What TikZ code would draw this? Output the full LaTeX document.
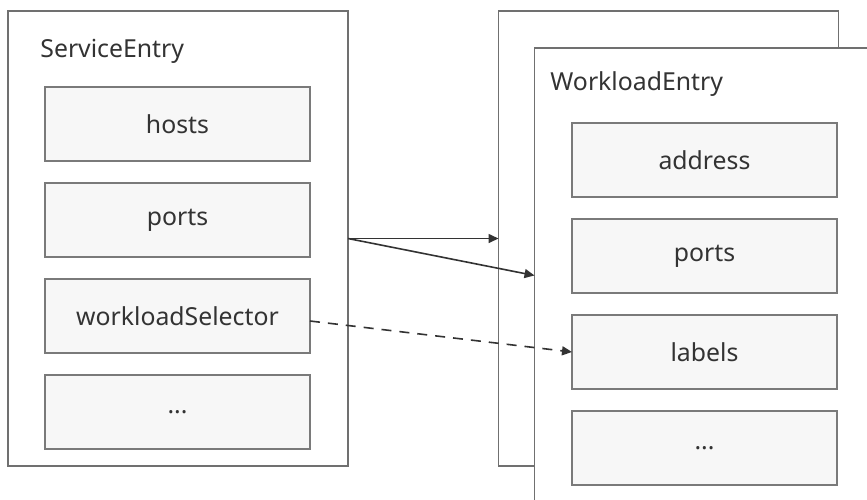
\documentclass[tikz,border=0pt]{standalone}
\usepackage{fontspec}
\setmainfont{Noto Sans}
\usetikzlibrary{arrows.meta,positioning}
\definecolor{frame}{HTML}{707070}
\definecolor{fieldline}{HTML}{7A7A7A}
\definecolor{fieldfill}{HTML}{F7F7F7}
\definecolor{ink}{HTML}{333333}

\begin{document}
\begin{tikzpicture}[x=0.5pt,y=-0.5pt,>={Triangle[length=5pt,width=4.5pt]},
 node distance=11pt,font=\fontsize{12.4}{15}\selectfont,
 entry/.style={draw=frame,line width=0.8pt,fill=white,outer sep=0pt,
 minimum width=170pt,minimum height=227.5pt},
 field/.style={draw=fieldline,line width=1pt,fill=fieldfill,text=ink,
 outer sep=0pt,minimum width=132.5pt,minimum height=37pt},
 title/.style={anchor=base west,text=ink,inner sep=0pt}]
\useasboundingbox (0,0) rectangle (867,499);
% left: service entry
\node[entry] (se) at (178,238.5) {};
\node[title] (setitle) at (40,57) {ServiceEntry};
\node[field] (hosts) at (177.5,124) {hosts};
\node[field,below=of hosts] (seports) {ports};
\node[field,below=of seports] (ws) {workloadSelector};
\node[field,below=of ws] (semore) {...};
% right: workload entries, one behind the other
\node[entry] (weback) at (668.5,238.5) {};
\node[entry] (we) at (704.5,275.5) {};
\node[title] (wetitle) at (550,90) {WorkloadEntry};
\node[field] (address) at (704.5,160) {address};
\node[field,below=of address] (weports) {ports};
\node[field,below=of weports] (labels) {labels};
\node[field,below=of labels] (wemore) {...};
\draw[->,ink,line width=0.8pt] (se.east)--(weback.west);
\draw[->,ink,line width=0.8pt] (se.east)--(we.west);
\draw[->,ink,line width=0.8pt,dashed,dash pattern=on 5pt off 4pt]
 ([yshift=-2.5pt]ws.east)--(labels.west);
\end{tikzpicture}
\end{document}
